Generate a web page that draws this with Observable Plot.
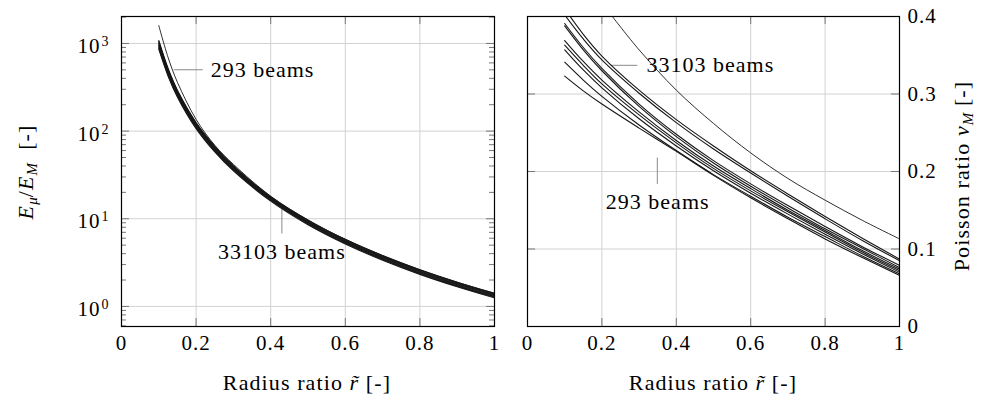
<!DOCTYPE html>
<html><head><meta charset="utf-8">
<script src="https://cdn.jsdelivr.net/npm/d3@7"></script>
<script src="https://cdn.jsdelivr.net/npm/@observablehq/plot@0.6"></script>
<style>
body{margin:0;background:#fff;}
#wrap{position:relative;width:989px;height:402px;font-family:"Liberation Serif","DejaVu Serif",serif;color:#000;overflow:hidden}
.pl{position:absolute;top:0}
.lab{position:absolute;font-size:22px;white-space:nowrap;line-height:1;letter-spacing:1.1px}
.rot{transform:translate(-50%,-50%) rotate(-90deg);}
.hor{transform:translate(-50%,-50%);}
.lab sub{font-size:15px;vertical-align:-4px;line-height:0;letter-spacing:0}
</style></head><body>
<div id="wrap">
  <div id="left" class="pl" style="left:0"></div>
  <div id="right" class="pl" style="left:505px"></div>
  <div class="lab rot" style="left:26px;top:172px"><i>E</i><sub><i>μ</i></sub>/<i>E</i><sub><i>M</i></sub>&nbsp;&nbsp;[-]</div>
  <div class="lab rot" style="left:962px;top:176px">Poisson ratio <i>ν</i><sub><i>M</i></sub>&nbsp;[-]</div>
  <div class="lab hor" style="left:307px;top:383px">Radius ratio <i>r&#x303;</i> [-]</div>
  <div class="lab hor" style="left:713px;top:383px">Radius ratio <i>r&#x303;</i> [-]</div>
</div>
<script>
// ---------- data: left panel (stiffness ratio E_mu/E_M, log scale) ----------
const rL = [0.1, 0.125, 0.15, 0.2, 0.25, 0.3, 0.4, 0.5, 0.6, 0.7, 0.8, 0.9, 1.0];
const E_293 = [1600, 690, 360, 136, 69, 41.8, 18.1, 9.7, 5.82, 3.80, 2.62, 1.89, 1.41];
const E_b1 = [1080, 517, 292, 125.3, 67.2, 40.3, 17.9, 9.65, 5.82, 3.80, 2.62, 1.89, 1.41];
const E_b2 = [1045, 504, 285, 122.7, 66.0, 39.6, 17.6, 9.49, 5.73, 3.735, 2.58, 1.86, 1.39];
const E_b3 = [1010, 490, 279, 120, 64.6, 38.9, 17.35, 9.34, 5.63, 3.675, 2.535, 1.83, 1.365];
const E_b4 = [975, 477, 272, 117.3, 63.2, 38.1, 17.05, 9.18, 5.54, 3.61, 2.49, 1.80, 1.34];
const E_b5 = [945, 463, 264, 114.7, 61.8, 37.3, 16.75, 9.02, 5.44, 3.55, 2.45, 1.765, 1.32];
const E_b6 = [915, 450, 258, 112, 60.4, 36.6, 16.45, 8.86, 5.35, 3.485, 2.405, 1.735, 1.295];
const E_b7 = [885, 436, 251, 109.4, 59.1, 35.9, 16.2, 8.71, 5.25, 3.425, 2.365, 1.705, 1.275];
const E_b8 = [860, 423, 244, 106.7, 57.8, 35.1, 15.9, 8.55, 5.16, 3.365, 2.32, 1.675, 1.25];
const E_bundle = [E_b1, E_b2, E_b3, E_b4, E_b5, E_b6, E_b7, E_b8];

// ---------- data: right panel (Poisson ratio) ----------
const rR = [0.1, 0.15, 0.2, 0.3, 0.4, 0.5, 0.6, 0.7, 0.8, 0.9, 1.0];
const nu_c1 = [0.410, 0.377, 0.349, 0.305, 0.267, 0.233, 0.201, 0.171, 0.142, 0.114, 0.087];
const nu_c2 = [0.402, 0.371, 0.344, 0.301, 0.263, 0.229, 0.198, 0.168, 0.139, 0.111, 0.085];
const nu_c3 = [0.391, 0.360, 0.333, 0.287, 0.248, 0.214, 0.184, 0.156, 0.129, 0.103, 0.079];
const nu_c4 = [0.388, 0.357, 0.330, 0.284, 0.245, 0.211, 0.181, 0.153, 0.126, 0.101, 0.076];
const nu_c5 = [0.369, 0.342, 0.318, 0.277, 0.240, 0.207, 0.178, 0.150, 0.124, 0.098, 0.074];
const nu_c6 = [0.363, 0.337, 0.313, 0.273, 0.237, 0.204, 0.175, 0.148, 0.122, 0.096, 0.072];
const nu_c7 = [0.357, 0.331, 0.308, 0.268, 0.233, 0.201, 0.172, 0.145, 0.119, 0.094, 0.070];
const nu_c8 = [0.341, 0.318, 0.297, 0.260, 0.227, 0.196, 0.168, 0.141, 0.116, 0.091, 0.068];
const nu_c9 = [0.323, 0.304, 0.287, 0.256, 0.226, 0.195, 0.166, 0.139, 0.113, 0.089, 0.066];
const nu_set = [nu_c1, nu_c2, nu_c3, nu_c4, nu_c5, nu_c6, nu_c7, nu_c8, nu_c9];
const rThin = [0.228, 0.3, 0.4, 0.5, 0.6, 0.7, 0.8, 0.9, 1.0];
const nu_thin = [0.400, 0.357, 0.305, 0.262, 0.224, 0.191, 0.163, 0.137, 0.113];

// ---------- ticks ----------
const xTicks = [0, 0.2, 0.4, 0.6, 0.8, 1];
const xInner = [0.2, 0.4, 0.6, 0.8];
const decades = [1, 10, 100, 1000];
const minorLog = [0.6, 0.7, 0.8, 0.9, 2, 3, 4, 5, 6, 7, 8, 9, 20, 30, 40, 50, 60, 70, 80, 90, 200, 300, 400, 500, 600, 700, 800, 900, 2000];
const nuTicks = [0, 0.1, 0.2, 0.3, 0.4];
const nuInner = [0.1, 0.2, 0.3];

// ---------- annotations ----------
const leftLabelStart = [{x: 0.239, y: 501, t: "293 beams"}];
const leftLabelMid = [{x: 0.43, y: 4.13, t: "33103 beams"}];
const leftPins = [
  {x1: 0.14, y1: 501, x2: 0.218, y2: 501},
  {x1: 0.43, y1: 13.1, x2: 0.43, y2: 6.8}
];
const rightLabelStart = [{x: 0.32, y: 0.337, t: "33103 beams"}];
const rightLabelMid = [{x: 0.35, y: 0.161, t: "293 beams"}];
const rightPins = [
  {x1: 0.224, y1: 0.337, x2: 0.295, y2: 0.337},
  {x1: 0.349, y1: 0.218, x2: 0.349, y2: 0.184}
];

// ---------- tables ----------
const leftRows = [];
E_bundle.forEach((arr, i) => arr.forEach((v, j) => leftRows.push({r: rL[j], E: v, s: "b" + i})));
const leftThin = E_293.map((v, j) => ({r: rL[j], E: v}));
const rightRows = [];
nu_set.forEach((arr, i) => arr.forEach((v, j) => rightRows.push({r: rR[j], nu: v, s: "c" + i})));
const rightThin = nu_thin.map((v, j) => ({r: rThin[j], nu: v}));

// ---------- style constants ----------
const H = 402, MT = 16, MB = 76;
const FH = H - MT - MB;
const GRID = "#d2d2d2", TICK = "#777", LINE = "#161616";
const MAJ = 8, MIN = 5;
const font = {fontFamily: "'Liberation Serif', 'DejaVu Serif', serif", fontSize: "21px", background: "white", color: "black", overflow: "visible", letterSpacing: "1px"};

// ---------- left plot ----------
const LW = 505, LML = 121, LMR = 11, LFW = LW - LML - LMR;
const left = Plot.plot({
  width: LW, height: H, marginLeft: LML, marginRight: LMR, marginTop: MT, marginBottom: MB,
  style: font,
  x: {domain: [0, 1]},
  y: {type: "log", domain: [0.59, 2030], axis: null},
  marks: [
    Plot.gridX({ticks: xInner, stroke: GRID, strokeOpacity: 1}),
    Plot.gridY({ticks: decades, stroke: GRID, strokeOpacity: 1}),
    Plot.tickY(decades, {y: d => d, insetRight: LFW - MAJ, stroke: TICK}),
    Plot.tickY(decades, {y: d => d, insetLeft: LFW - MAJ, stroke: TICK}),
    Plot.tickY(minorLog, {y: d => d, insetRight: LFW - MIN, stroke: TICK}),
    Plot.tickY(minorLog, {y: d => d, insetLeft: LFW - MIN, stroke: TICK}),
    Plot.tickX(xInner, {x: d => d, insetTop: FH - MAJ, stroke: TICK}),
    Plot.tickX(xInner, {x: d => d, insetBottom: FH - MAJ, stroke: TICK}),
    Plot.link(leftPins, {x1: "x1", y1: "y1", x2: "x2", y2: "y2", stroke: "#8a8a8a", strokeWidth: 1}),
    Plot.line(leftRows, {x: "r", y: "E", z: "s", stroke: LINE, strokeWidth: 1.1, curve: "catmull-rom", clip: true}),
    Plot.line(leftThin, {x: "r", y: "E", stroke: LINE, strokeWidth: 0.9, curve: "catmull-rom", clip: true}),
    Plot.frame({stroke: "black", strokeWidth: 1.2}),
    Plot.axisX({ticks: xTicks, tickSize: 0, tickPadding: 9, tickFormat: d => String(d), label: null}),
    Plot.text(decades, {y: d => d, frameAnchor: "left", text: d => "10", textAnchor: "end", dx: -21, dy: 3, fontSize: 21}),
    Plot.text(decades, {y: d => d, frameAnchor: "left", text: d => String(Math.round(Math.log10(d))), textAnchor: "start", dx: -20, dy: -2, fontSize: 14}),
    Plot.text(leftLabelStart, {x: "x", y: "y", text: "t", textAnchor: "start", fontSize: 22}),
    Plot.text(leftLabelMid, {x: "x", y: "y", text: "t", textAnchor: "middle", fontSize: 22})
  ]
});
document.getElementById("left").appendChild(left);

// ---------- right plot ----------
const RW = 484, RML = 22, RMR = 90, RFW = RW - RML - RMR;
const right = Plot.plot({
  width: RW, height: H, marginLeft: RML, marginRight: RMR, marginTop: MT, marginBottom: MB,
  style: font,
  x: {domain: [0, 1]},
  y: {domain: [0, 0.4]},
  marks: [
    Plot.gridX({ticks: xInner, stroke: GRID, strokeOpacity: 1}),
    Plot.gridY({ticks: nuInner, stroke: GRID, strokeOpacity: 1}),
    Plot.tickY(nuInner, {y: d => d, insetRight: RFW - MAJ, stroke: TICK}),
    Plot.tickY(nuInner, {y: d => d, insetLeft: RFW - MAJ, stroke: TICK}),
    Plot.tickX(xInner, {x: d => d, insetTop: FH - MAJ, stroke: TICK}),
    Plot.tickX(xInner, {x: d => d, insetBottom: FH - MAJ, stroke: TICK}),
    Plot.link(rightPins, {x1: "x1", y1: "y1", x2: "x2", y2: "y2", stroke: "#8a8a8a", strokeWidth: 1}),
    Plot.line(rightRows, {x: "r", y: "nu", z: "s", stroke: LINE, strokeWidth: 1.1, curve: "catmull-rom", clip: true}),
    Plot.line(rightThin, {x: "r", y: "nu", stroke: LINE, strokeWidth: 0.9, curve: "catmull-rom", clip: true}),
    Plot.frame({stroke: "black", strokeWidth: 1.2}),
    Plot.axisX({ticks: xTicks, tickSize: 0, tickPadding: 9, tickFormat: d => String(d), label: null}),
    Plot.axisY({anchor: "right", ticks: nuTicks, tickSize: 0, tickPadding: 8, tickFormat: d => String(d), label: null}),
    Plot.text(rightLabelStart, {x: "x", y: "y", text: "t", textAnchor: "start", fontSize: 22}),
    Plot.text(rightLabelMid, {x: "x", y: "y", text: "t", textAnchor: "middle", fontSize: 22})
  ]
});
document.getElementById("right").appendChild(right);
</script>
</body></html>
